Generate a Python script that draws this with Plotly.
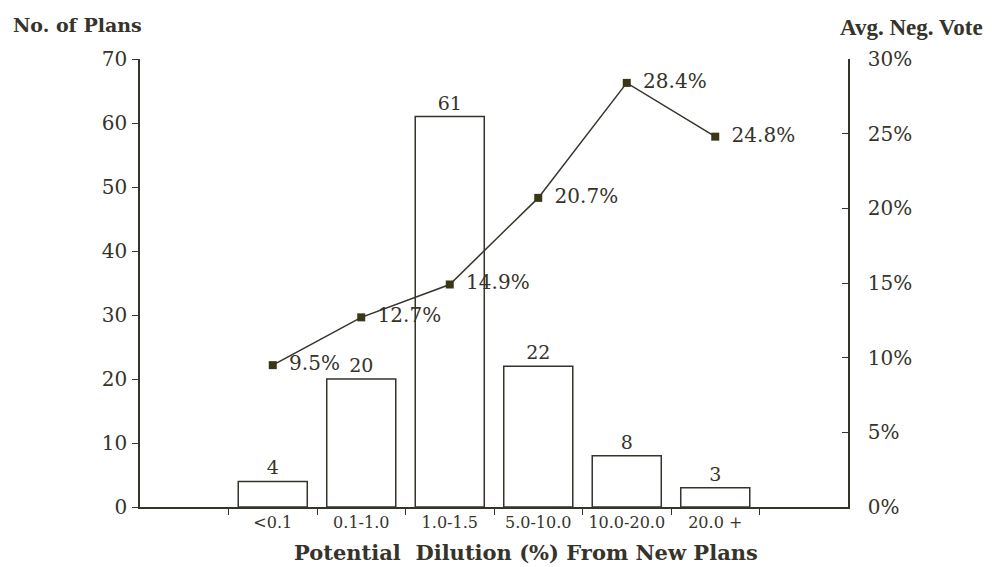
import plotly.graph_objects as go

categories = ["<0.1", "0.1-1.0", "1.0-1.5", "5.0-10.0", "10.0-20.0", "20.0 +"]
num_plans = [4, 20, 61, 22, 8, 3]
avg_neg_vote = [9.5, 12.7, 14.9, 20.7, 28.4, 24.8]
vote_labels = ["9.5%", "12.7%", "14.9%", "20.7%", "28.4%", "24.8%"]

INK = "#35332a"
SERIF = "DejaVu Serif"

fig = go.Figure()
fig.add_trace(go.Bar(
    x=categories, y=num_plans, width=0.78,
    marker=dict(color="white", line=dict(color=INK, width=1.5)),
    text=[str(v) for v in num_plans], textposition="outside",
    textfont=dict(family=SERIF, size=19, color=INK),
    cliponaxis=False, showlegend=False,
))
fig.add_trace(go.Scatter(
    x=categories, y=avg_neg_vote, yaxis="y2",
    mode="lines+markers+text",
    line=dict(color=INK, width=1.5),
    marker=dict(symbol="square", size=8, color="#3a3618"),
    text=[" \u2009" + t for t in vote_labels], textposition="middle right",
    textfont=dict(family=SERIF, size=20, color=INK),
    cliponaxis=False, showlegend=False,
))

fig.update_layout(
    width=992, height=567,
    margin=dict(l=132, r=152, t=51, b=68),
    paper_bgcolor="white", plot_bgcolor="white",
    xaxis=dict(
        type="category", range=[-1.5, 6.5],
        showline=True, linecolor=INK, linewidth=1.5,
        ticks="outside", tickson="boundaries", ticklen=6, tickcolor=INK,
        tickfont=dict(family=SERIF, size=16, color=INK),
        showgrid=False, zeroline=False,
    ),
    yaxis=dict(
        range=[0, 70], dtick=10,
        showline=True, linecolor=INK, linewidth=1.5,
        ticks="outside", ticklen=6, tickcolor=INK,
        tickfont=dict(family=SERIF, size=20, color=INK),
        ticklabelstandoff=1,
        showgrid=False, zeroline=False,
    ),
    yaxis2=dict(
        range=[0, 30], dtick=5, ticksuffix="%",
        overlaying="y", side="right",
        showline=True, linecolor=INK, linewidth=1.5,
        ticks="inside", ticklen=6, tickcolor=INK,
        tickfont=dict(family=SERIF, size=20, color=INK),
        ticklabelstandoff=14,
        showgrid=False, zeroline=False,
    ),
    annotations=[
        dict(text="<b>No. of Plans</b>", xref="paper", yref="paper",
             x=0, y=1.0, xanchor="left", yanchor="middle", xshift=-129, yshift=34,
             showarrow=False, font=dict(family=SERIF, size=19, color=INK)),
        dict(text="<b>Avg. Neg. Vote</b>", xref="paper", yref="paper",
             x=1.0, y=1.0, xanchor="left", yanchor="middle", xshift=-10, yshift=32,
             showarrow=False, font=dict(family="Liberation Serif", size=23, color=INK)),
        dict(text="<b>Potential  Dilution (%) From New Plans</b>", xref="paper", yref="paper",
             x=0.5, y=0, xanchor="center", yanchor="middle", xshift=32, yshift=-45,
             showarrow=False, font=dict(family=SERIF, size=21, color=INK)),
    ],
)

fig.write_html("out.html")
